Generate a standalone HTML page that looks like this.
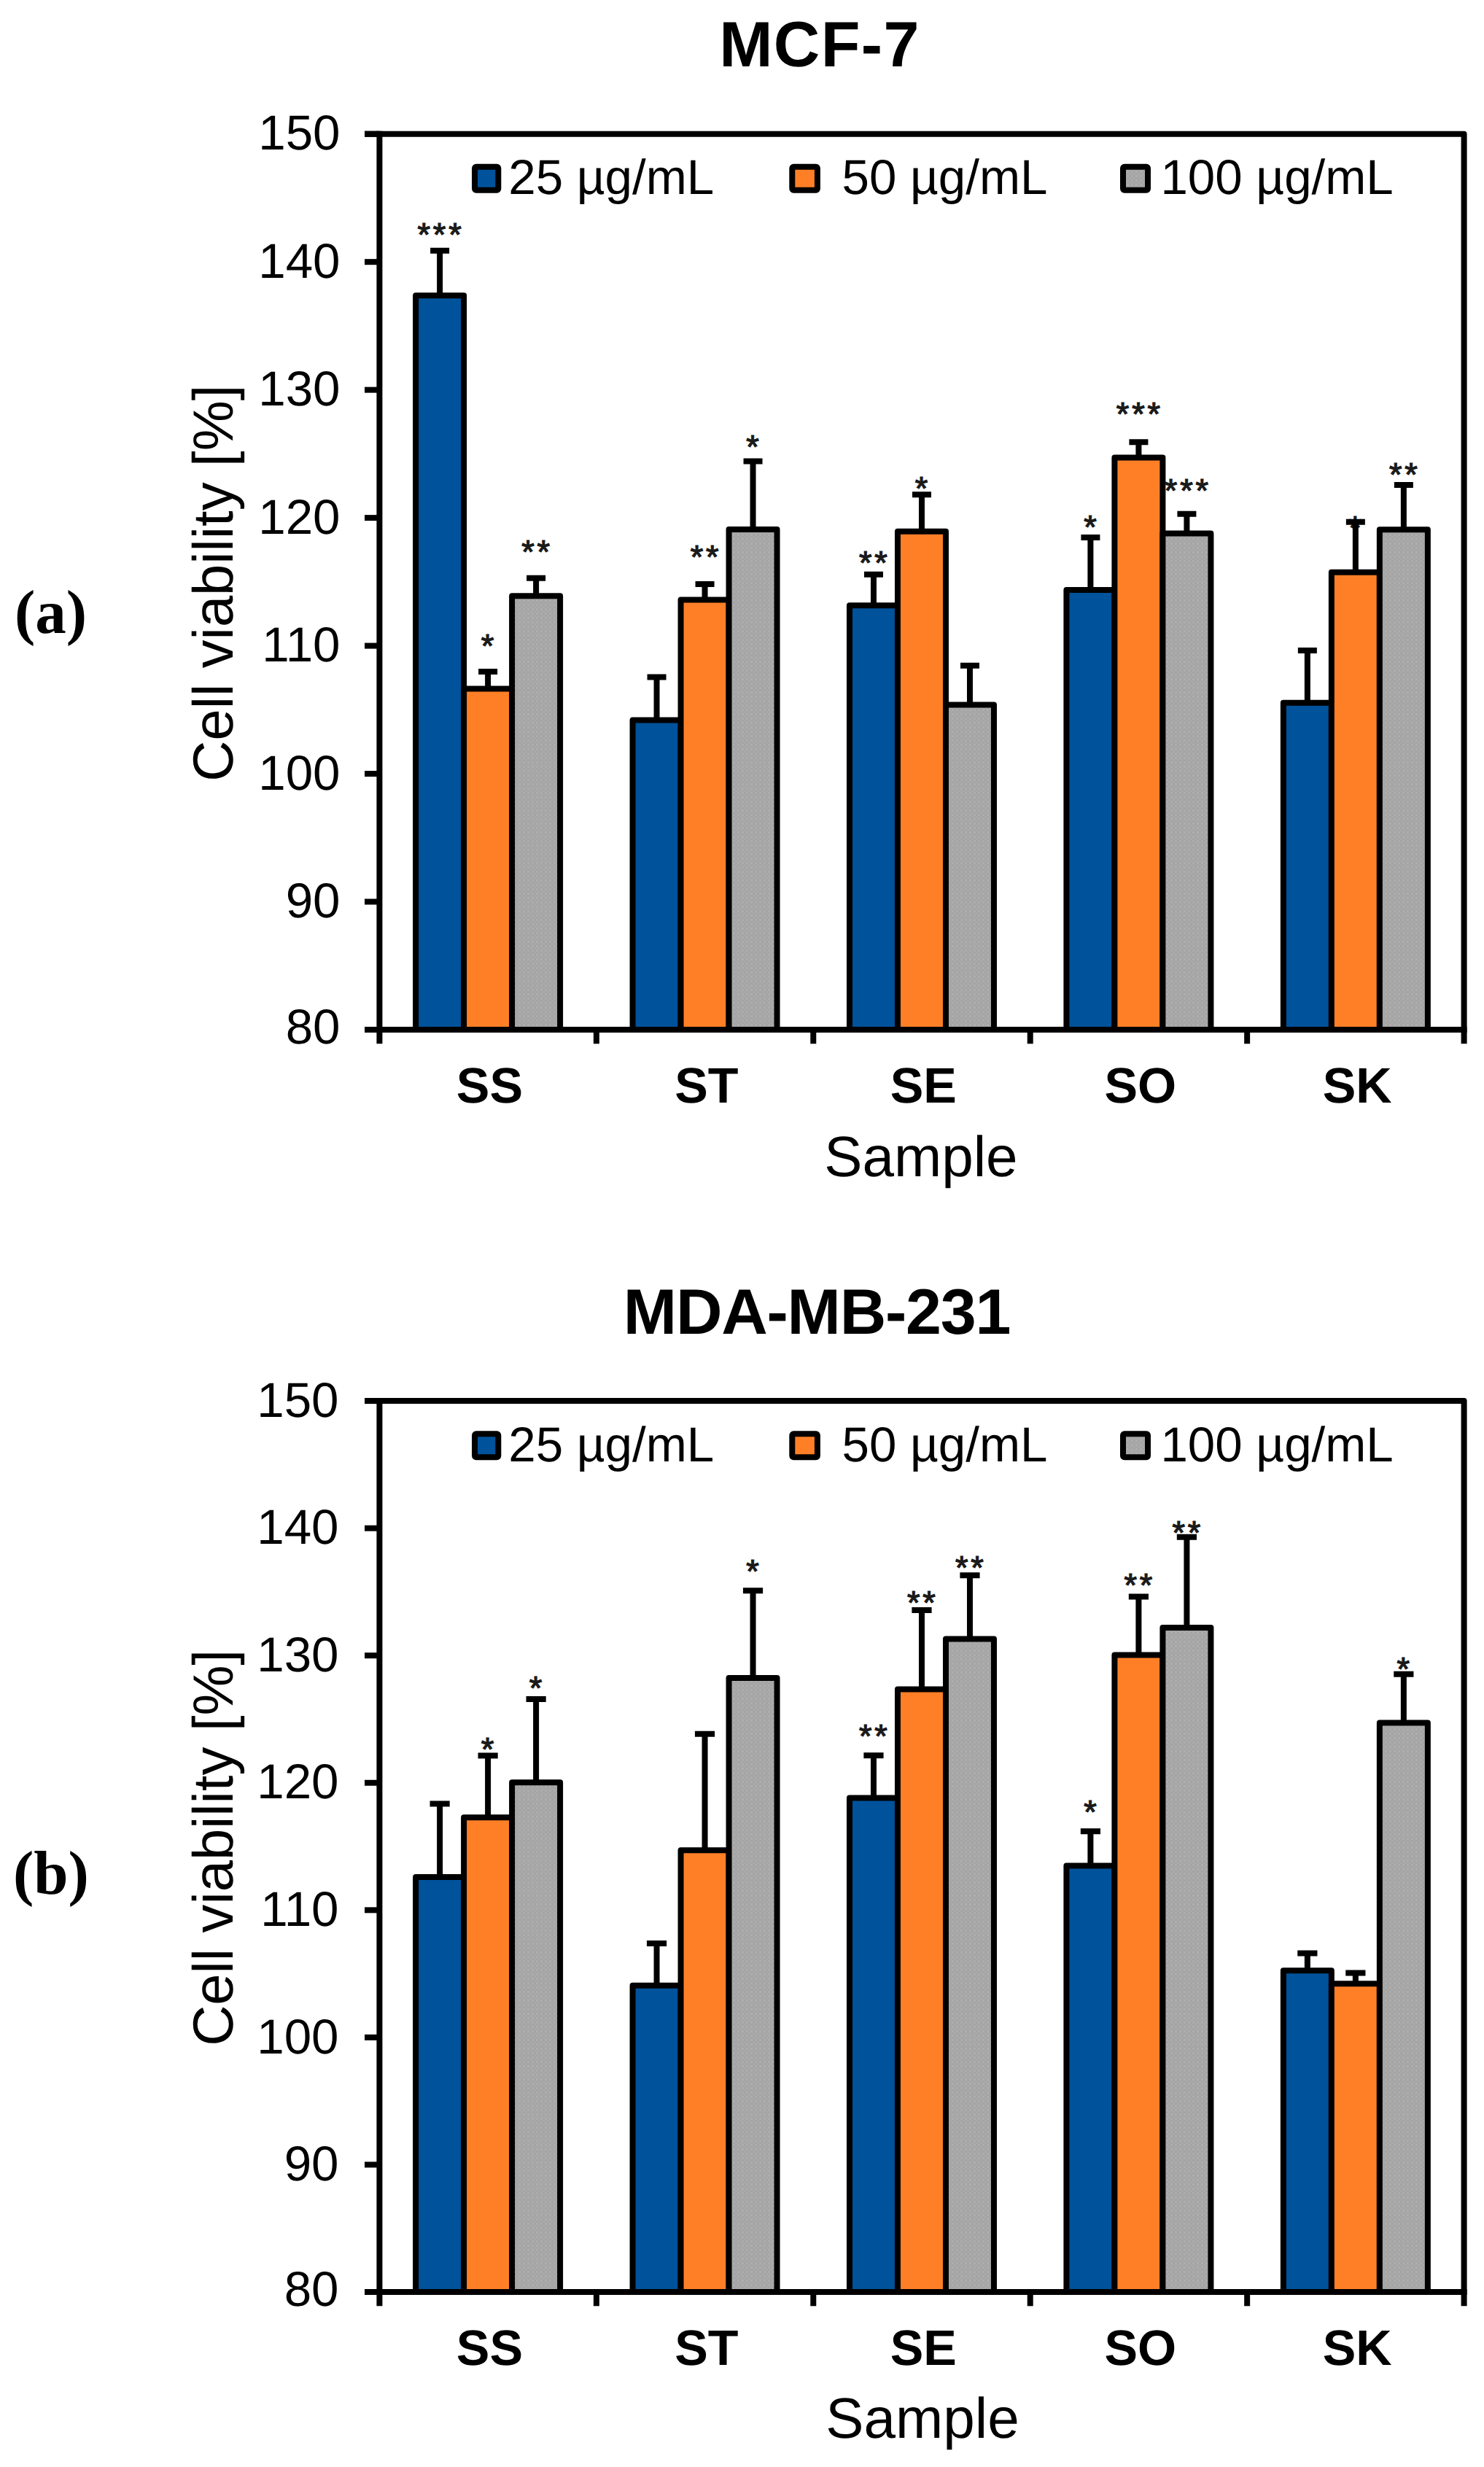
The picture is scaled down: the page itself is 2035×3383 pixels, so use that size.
<!DOCTYPE html>
<html lang="en">
<head>
<meta charset="utf-8">
<title>Cell viability - MCF-7 and MDA-MB-231</title>
<style>
html,body{margin:0;padding:0;background:#fff;}
body{width:2035px;height:3383px;overflow:hidden;}
svg{display:block;}
text{font-family:"Liberation Sans",Arial,Helvetica,sans-serif;fill:#000;text-rendering:geometricPrecision;}
.b{font-weight:bold;}
.tk{font-size:67.3px;text-anchor:end;}
.lg{font-size:67.3px;}
.ct{font-size:68.3px;font-weight:bold;text-anchor:middle;}
.tt{font-size:88px;font-weight:bold;text-anchor:middle;}
.ax{font-size:77.7px;text-anchor:middle;}
.lb{font-family:"Liberation Serif","Times New Roman",serif;font-size:85px;font-weight:bold;}
.as{font-size:45px;text-anchor:middle;fill:#1a1a1a;stroke:#1a1a1a;stroke-width:1.3;letter-spacing:3.8px;}
.ln{stroke:#000;stroke-width:8;fill:none;}
.br{stroke:#000;stroke-width:8;stroke-linejoin:round;}
</style>
</head>
<body>
<svg width="2035" height="3383" viewBox="0 0 2035 3383">
<defs><pattern id="gp" width="6" height="6" patternUnits="userSpaceOnUse"><rect width="6" height="6" fill="#a9a9a9"/><rect x="0" y="0" width="3" height="3" fill="#a4a4a4"/><rect x="3" y="3" width="3" height="3" fill="#a5a5a5"/><rect x="3" y="0" width="3" height="3" fill="#adadad"/></pattern></defs>
<rect x="0" y="0" width="2035" height="3383" fill="#ffffff"/>
<g id="chart-a">
<text class="tt" x="1123.3" y="91.1" textLength="274.3" lengthAdjust="spacing">MCF-7</text>
<text class="lb" x="20" y="867.5">(a)</text>
<text class="ax" transform="translate(318.5 799.65) rotate(-90)">Cell viability [%]</text>
<text class="ax" style="font-size:78.3px" x="1262.9" y="1613">Sample</text>
<text class="tk" x="466.5" y="205.4">150</text>
<line class="ln" x1="500" y1="183.7" x2="520.4" y2="183.7"/>
<text class="tk" x="466.5" y="380.87">140</text>
<line class="ln" x1="500" y1="359.17" x2="520.4" y2="359.17"/>
<text class="tk" x="466.5" y="556.34">130</text>
<line class="ln" x1="500" y1="534.64" x2="520.4" y2="534.64"/>
<text class="tk" x="466.5" y="731.81">120</text>
<line class="ln" x1="500" y1="710.11" x2="520.4" y2="710.11"/>
<text class="tk" x="466.5" y="907.29">110</text>
<line class="ln" x1="500" y1="885.59" x2="520.4" y2="885.59"/>
<text class="tk" x="466.5" y="1082.76">100</text>
<line class="ln" x1="500" y1="1061.06" x2="520.4" y2="1061.06"/>
<text class="tk" x="466.5" y="1258.23">90</text>
<line class="ln" x1="500" y1="1236.53" x2="520.4" y2="1236.53"/>
<text class="tk" x="466.5" y="1431.2">80</text>
<line class="ln" x1="500" y1="1412" x2="520.4" y2="1412"/>
<rect class="br" x="570.1" y="405.3" width="66" height="1006.7" fill="#00529a"/>
<rect class="br" x="636.1" y="944.6" width="66" height="467.4" fill="#ff7f27"/>
<rect class="br" x="702.1" y="817.2" width="66" height="594.8" fill="url(#gp)"/>
<rect class="br" x="867.54" y="987.5" width="66" height="424.5" fill="#00529a"/>
<rect class="br" x="933.54" y="822.4" width="66" height="589.6" fill="#ff7f27"/>
<rect class="br" x="999.54" y="726.1" width="66" height="685.9" fill="url(#gp)"/>
<rect class="br" x="1164.98" y="830.3" width="66" height="581.7" fill="#00529a"/>
<rect class="br" x="1230.98" y="728.7" width="66" height="683.3" fill="#ff7f27"/>
<rect class="br" x="1296.98" y="966.6" width="66" height="445.4" fill="url(#gp)"/>
<rect class="br" x="1462.42" y="808.9" width="66" height="603.1" fill="#00529a"/>
<rect class="br" x="1528.42" y="627.4" width="66" height="784.6" fill="#ff7f27"/>
<rect class="br" x="1594.42" y="731.5" width="66" height="680.5" fill="url(#gp)"/>
<rect class="br" x="1759.86" y="963.7" width="66" height="448.3" fill="#00529a"/>
<rect class="br" x="1825.86" y="784.8" width="66" height="627.2" fill="#ff7f27"/>
<rect class="br" x="1891.86" y="726.2" width="66" height="685.8" fill="url(#gp)"/>
<text class="as" x="604.5" y="336.8">***</text>
<path class="ln" d="M603.1 405.3V343.8M590.1 343.8H616.1"/>
<text class="as" x="670.5" y="900.8">*</text>
<path class="ln" d="M669.1 944.6V921M656.1 921H682.1"/>
<text class="as" x="736.5" y="772.4">**</text>
<path class="ln" d="M735.1 817.2V792.7M722.1 792.7H748.1"/>
<path class="ln" d="M900.54 987.5V928.5M887.54 928.5H913.54"/>
<text class="as" x="967.94" y="778.6">**</text>
<path class="ln" d="M966.54 822.4V800.9M953.54 800.9H979.54"/>
<text class="as" x="1033.94" y="628.3">*</text>
<path class="ln" d="M1032.54 726.1V632.5M1019.54 632.5H1045.54"/>
<text class="as" x="1199.38" y="786.8">**</text>
<path class="ln" d="M1197.98 830.3V787.7M1184.98 787.7H1210.98"/>
<text class="as" x="1265.38" y="684.7">*</text>
<path class="ln" d="M1263.98 728.7V678.3M1250.98 678.3H1276.98"/>
<path class="ln" d="M1329.98 966.6V912.8M1316.98 912.8H1342.98"/>
<text class="as" x="1496.82" y="737.7">*</text>
<path class="ln" d="M1495.42 808.9V736.9M1482.42 736.9H1508.42"/>
<text class="as" x="1562.82" y="583">***</text>
<path class="ln" d="M1561.42 627.4V606.2M1548.42 606.2H1574.42"/>
<text class="as" x="1628.82" y="687.8">***</text>
<path class="ln" d="M1627.42 731.5V704.8M1614.42 704.8H1640.42"/>
<path class="ln" d="M1792.86 963.7V892M1779.86 892H1805.86"/>
<text class="as" x="1860.26" y="739.1">*</text>
<path class="ln" d="M1858.86 784.8V715.7M1845.86 715.7H1871.86"/>
<text class="as" x="1926.26" y="666.1">**</text>
<path class="ln" d="M1924.86 726.2V665M1911.86 665H1937.86"/>
<path class="ln" stroke-linejoin="round" d="M500 183.7H2007.6V1431.3"/>
<path class="ln" d="M520.4 179.7V1431.3"/>
<path class="ln" d="M500 1412H2011.6"/>
<line class="ln" x1="817.84" y1="1412" x2="817.84" y2="1431.3"/>
<line class="ln" x1="1115.28" y1="1412" x2="1115.28" y2="1431.3"/>
<line class="ln" x1="1412.72" y1="1412" x2="1412.72" y2="1431.3"/>
<line class="ln" x1="1710.16" y1="1412" x2="1710.16" y2="1431.3"/>
<text class="ct" x="671.42" y="1512">SS</text>
<text class="ct" x="968.86" y="1512">ST</text>
<text class="ct" x="1266.3" y="1512">SE</text>
<text class="ct" x="1563.74" y="1512">SO</text>
<text class="ct" x="1861.18" y="1512">SK</text>
<rect class="br" x="651" y="228.7" width="32.3" height="32" rx="2" fill="#00529a"/>
<text class="lg" x="697.3" y="266.4">25 µg/mL</text>
<rect class="br" x="1086.3" y="228.7" width="34.6" height="32" rx="2" fill="#ff7f27"/>
<text class="lg" x="1154.5" y="266.4">50 µg/mL</text>
<rect class="br" x="1540" y="228.7" width="34" height="32" rx="2" fill="url(#gp)"/>
<text class="lg" x="1591.4" y="266.4">100 µg/mL</text>
</g>
<g id="chart-b">
<text class="tt" x="1120.6" y="1828.6" textLength="531.5" lengthAdjust="spacing">MDA-MB-231</text>
<text class="lb" x="18" y="2597.4">(b)</text>
<text class="ax" transform="translate(318.5 2533.85) rotate(-90)">Cell viability [%]</text>
<text class="ax" style="font-size:78.3px" x="1265" y="3343.3">Sample</text>
<text class="tk" x="464.5" y="1942.8">150</text>
<line class="ln" x1="500" y1="1921.1" x2="520.4" y2="1921.1"/>
<text class="tk" x="464.5" y="2117.36">140</text>
<line class="ln" x1="500" y1="2095.66" x2="520.4" y2="2095.66"/>
<text class="tk" x="464.5" y="2291.91">130</text>
<line class="ln" x1="500" y1="2270.21" x2="520.4" y2="2270.21"/>
<text class="tk" x="464.5" y="2466.47">120</text>
<line class="ln" x1="500" y1="2444.77" x2="520.4" y2="2444.77"/>
<text class="tk" x="464.5" y="2641.03">110</text>
<line class="ln" x1="500" y1="2619.33" x2="520.4" y2="2619.33"/>
<text class="tk" x="464.5" y="2815.59">100</text>
<line class="ln" x1="500" y1="2793.89" x2="520.4" y2="2793.89"/>
<text class="tk" x="464.5" y="2990.14">90</text>
<line class="ln" x1="500" y1="2968.44" x2="520.4" y2="2968.44"/>
<text class="tk" x="464.5" y="3162.2">80</text>
<line class="ln" x1="500" y1="3143" x2="520.4" y2="3143"/>
<rect class="br" x="570.1" y="2574.1" width="66" height="568.9" fill="#00529a"/>
<rect class="br" x="636.1" y="2492.2" width="66" height="650.8" fill="#ff7f27"/>
<rect class="br" x="702.1" y="2444.2" width="66" height="698.8" fill="url(#gp)"/>
<rect class="br" x="867.54" y="2722.8" width="66" height="420.2" fill="#00529a"/>
<rect class="br" x="933.54" y="2537.3" width="66" height="605.7" fill="#ff7f27"/>
<rect class="br" x="999.54" y="2300.9" width="66" height="842.1" fill="url(#gp)"/>
<rect class="br" x="1164.98" y="2465.5" width="66" height="677.5" fill="#00529a"/>
<rect class="br" x="1230.98" y="2316.6" width="66" height="826.4" fill="#ff7f27"/>
<rect class="br" x="1296.98" y="2247.6" width="66" height="895.4" fill="url(#gp)"/>
<rect class="br" x="1462.42" y="2558.4" width="66" height="584.6" fill="#00529a"/>
<rect class="br" x="1528.42" y="2269.4" width="66" height="873.6" fill="#ff7f27"/>
<rect class="br" x="1594.42" y="2232.1" width="66" height="910.9" fill="url(#gp)"/>
<rect class="br" x="1759.86" y="2702.2" width="66" height="440.8" fill="#00529a"/>
<rect class="br" x="1825.86" y="2720.2" width="66" height="422.8" fill="#ff7f27"/>
<rect class="br" x="1891.86" y="2362.6" width="66" height="780.4" fill="url(#gp)"/>
<path class="ln" d="M603.1 2574.1V2473.5M589.5 2473.5H616.7"/>
<text class="as" x="670.5" y="2414.4">*</text>
<path class="ln" d="M669.1 2492.2V2407.4M655.5 2407.4H682.7"/>
<text class="as" x="736.5" y="2329.6">*</text>
<path class="ln" d="M735.1 2444.2V2330M721.5 2330H748.7"/>
<path class="ln" d="M900.54 2722.8V2665M886.94 2665H914.14"/>
<path class="ln" d="M966.54 2537.3V2377.8M952.94 2377.8H980.14"/>
<text class="as" x="1033.94" y="2170.3">*</text>
<path class="ln" d="M1032.54 2300.9V2181.3M1018.94 2181.3H1046.14"/>
<text class="as" x="1199.38" y="2395.5">**</text>
<path class="ln" d="M1197.98 2465.5V2407.2M1184.38 2407.2H1211.58"/>
<text class="as" x="1265.38" y="2212.9">**</text>
<path class="ln" d="M1263.98 2316.6V2207.9M1250.38 2207.9H1277.58"/>
<text class="as" x="1331.38" y="2164.5">**</text>
<path class="ln" d="M1329.98 2247.6V2160.2M1316.38 2160.2H1343.58"/>
<text class="as" x="1496.82" y="2499.6">*</text>
<path class="ln" d="M1495.42 2558.4V2511.3M1481.82 2511.3H1509.02"/>
<text class="as" x="1562.82" y="2188.8">**</text>
<path class="ln" d="M1561.42 2269.4V2189.6M1547.82 2189.6H1575.02"/>
<text class="as" x="1628.82" y="2117.3">**</text>
<path class="ln" d="M1627.42 2232.1V2107.8M1613.82 2107.8H1641.02"/>
<path class="ln" d="M1792.86 2702.2V2678.5M1779.26 2678.5H1806.46"/>
<path class="ln" d="M1858.86 2720.2V2705.5M1845.26 2705.5H1872.46"/>
<text class="as" x="1926.26" y="2303.5">*</text>
<path class="ln" d="M1924.86 2362.6V2295.7M1911.26 2295.7H1938.46"/>
<path class="ln" stroke-linejoin="round" d="M500 1921.1H2007.6V3162.3"/>
<path class="ln" d="M520.4 1917.1V3162.3"/>
<path class="ln" d="M500 3143H2011.6"/>
<line class="ln" x1="817.84" y1="3143" x2="817.84" y2="3162.3"/>
<line class="ln" x1="1115.28" y1="3143" x2="1115.28" y2="3162.3"/>
<line class="ln" x1="1412.72" y1="3143" x2="1412.72" y2="3162.3"/>
<line class="ln" x1="1710.16" y1="3143" x2="1710.16" y2="3162.3"/>
<text class="ct" x="671.42" y="3243">SS</text>
<text class="ct" x="968.86" y="3243">ST</text>
<text class="ct" x="1266.3" y="3243">SE</text>
<text class="ct" x="1563.74" y="3243">SO</text>
<text class="ct" x="1861.18" y="3243">SK</text>
<rect class="br" x="651" y="1966.2" width="32.3" height="32" rx="2" fill="#00529a"/>
<text class="lg" x="697.3" y="2003.9">25 µg/mL</text>
<rect class="br" x="1086.3" y="1966.2" width="34.6" height="32" rx="2" fill="#ff7f27"/>
<text class="lg" x="1154.5" y="2003.9">50 µg/mL</text>
<rect class="br" x="1540" y="1966.2" width="34" height="32" rx="2" fill="url(#gp)"/>
<text class="lg" x="1591.4" y="2003.9">100 µg/mL</text>
</g>
</svg>
</body>
</html>
